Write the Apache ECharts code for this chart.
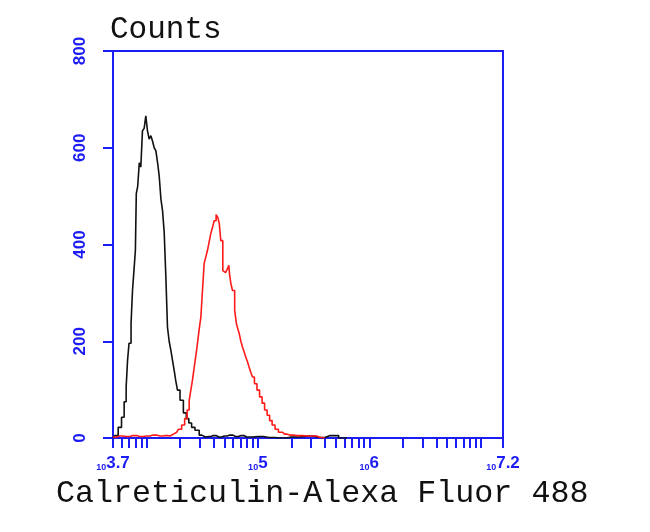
<!DOCTYPE html>
<html>
<head>
<meta charset="utf-8">
<script src="https://cdn.jsdelivr.net/npm/echarts@6/dist/echarts.min.js"></script>
<style>html,body{margin:0;padding:0;background:#fff}#c{width:650px;height:532px}</style>
</head>
<body>
<div id="c"></div>
<script>
// x values are log10(fluorescence intensity)
var blackX = [3.700,3.730,3.763,3.790,3.810,3.826,3.835,3.853,3.871,3.879,3.897,3.905,3.913,3.930,3.942,3.957,3.972,3.987,4.002,4.017,4.032,4.047,4.062,4.077,4.092,4.107,4.122,4.137,4.152,4.167,4.182,4.196,4.212,4.227,4.242,4.256,4.271,4.286,4.317,4.346,4.370,4.391,4.420,4.451,4.496,4.530,4.560,4.600,4.650,4.700,4.750,4.800,4.850,4.900,5.000,5.100,5.200,5.300,5.450,5.550,5.650,5.800];
var blackY = [0,5,22,43,75,105,160,196,237,305,346,388,505,520,569,560,635,640,666,635,618,625,614,600,594,570,542,495,470,425,332,229,200,181,160,140,118,99,78,52,40,31,22,16,6,2,3,5,2,4,6,3,5,2,3,1,0,2,4,1,5,0];
var redX = [3.700,3.760,3.820,3.880,3.940,4.000,4.060,4.120,4.170,4.212,4.242,4.272,4.301,4.331,4.355,4.376,4.391,4.406,4.421,4.436,4.451,4.466,4.481,4.496,4.510,4.526,4.541,4.555,4.570,4.586,4.600,4.615,4.636,4.648,4.660,4.675,4.696,4.710,4.720,4.735,4.744,4.750,4.765,4.780,4.804,4.810,4.825,4.840,4.855,4.869,4.885,4.900,4.915,4.929,4.944,4.959,4.980,5.004,5.027,5.049,5.072,5.094,5.117,5.139,5.170,5.199,5.240,5.288,5.350,5.450,5.528,5.560,5.600];
var redY = [2,4,3,5,3,4,6,4,5,4,8,12,18,27,40,58,78,99,120,146,170,196,225,250,305,361,375,388,405,423,435,449,462,455,443,408,346,342,340,350,357,336,320,305,264,237,228,216,200,188,178,167,157,146,136,126,112,99,85,72,58,47,36,27,18,12,8,6,5,4,4,1,0];
var yTicks = [0,200,400,600,800];
var xLabelValues = [3.7,5,6,7.2];
var xLabelTexts = ['3.7','5','6','7.2'];
var xMinorTickMultiples = [1,2,3,4,5,6,7,8,9];
var xDecades = [3,4,5,6,7];
var xMin = 3.7, xMax = 7.2;
var yTitle = 'Counts';
var xTitle = 'Calreticulin-Alexa Fluor 488';

var tickVals = [xMin];
xDecades.forEach(function(d){
  xMinorTickMultiples.forEach(function(m){
    var v = d + Math.log10(m);
    if (v > xMin + 1e-6 && v < xMax - 1e-6) tickVals.push(v);
  });
});
tickVals.push(xMax);

function pairs(xs, ys){ return xs.map(function(x,i){ return [x, ys[i]]; }); }

var BLUE = '#1c1cf5';
var chart = echarts.init(document.getElementById('c'), null, {renderer:'canvas'});
chart.setOption({
  animation: false,
  backgroundColor: '#fff',
  grid: {left:113, right:147, top:51, bottom:94, show:true, borderColor:BLUE, borderWidth:2, backgroundColor:'transparent'},
  xAxis: {
    type:'value', min:xMin, max:xMax,
    axisLine:{show:true, onZero:false, lineStyle:{color:BLUE, width:2}},
    axisTick:{show:true, inside:false, length:10, lineStyle:{color:BLUE, width:2}, customValues: tickVals},
    splitLine:{show:false},
    axisLabel:{
      customValues: xLabelValues, margin:16,
      formatter: function(v){
        var i = xLabelValues.findIndex(function(x){ return Math.abs(x - v) < 1e-6; });
        return '{s|10}{b|' + (i >= 0 ? xLabelTexts[i] : '') + '}';
      },
      rich:{
        s:{fontSize:9, fontWeight:'bold', color:BLUE, fontFamily:'Liberation Sans', verticalAlign:'bottom', lineHeight:18},
        b:{fontSize:17, fontWeight:'bold', color:BLUE, fontFamily:'Liberation Sans', verticalAlign:'bottom', lineHeight:18}
      }
    }
  },
  yAxis: {
    type:'value', min:0, max:800, interval:200,
    axisLine:{show:true, lineStyle:{color:BLUE, width:2}},
    axisTick:{show:true, inside:false, length:10, lineStyle:{color:BLUE, width:2}},
    splitLine:{show:false},
    axisLabel:{rotate:90, margin:24, color:BLUE, fontSize:17, fontWeight:'bold', fontFamily:'Liberation Sans'}
  },
  graphic: [
    {type:'text', left:110, top:14, style:{text:yTitle, font:'31px "Liberation Mono"', fill:'#111'}},
    {type:'text', left:56, top:478, style:{text:xTitle, font:'31.7px "Liberation Mono"', fill:'#111'}}
  ],
  series: [
    {type:'line', data:pairs(blackX, blackY), step:'middle', showSymbol:false, lineStyle:{color:'#111', width:1.6}, z:3},
    {type:'line', data:pairs(redX, redY), step:'middle', showSymbol:false, lineStyle:{color:'#ff1a1a', width:1.6}, z:4}
  ]
});
</script>
</body>
</html>
